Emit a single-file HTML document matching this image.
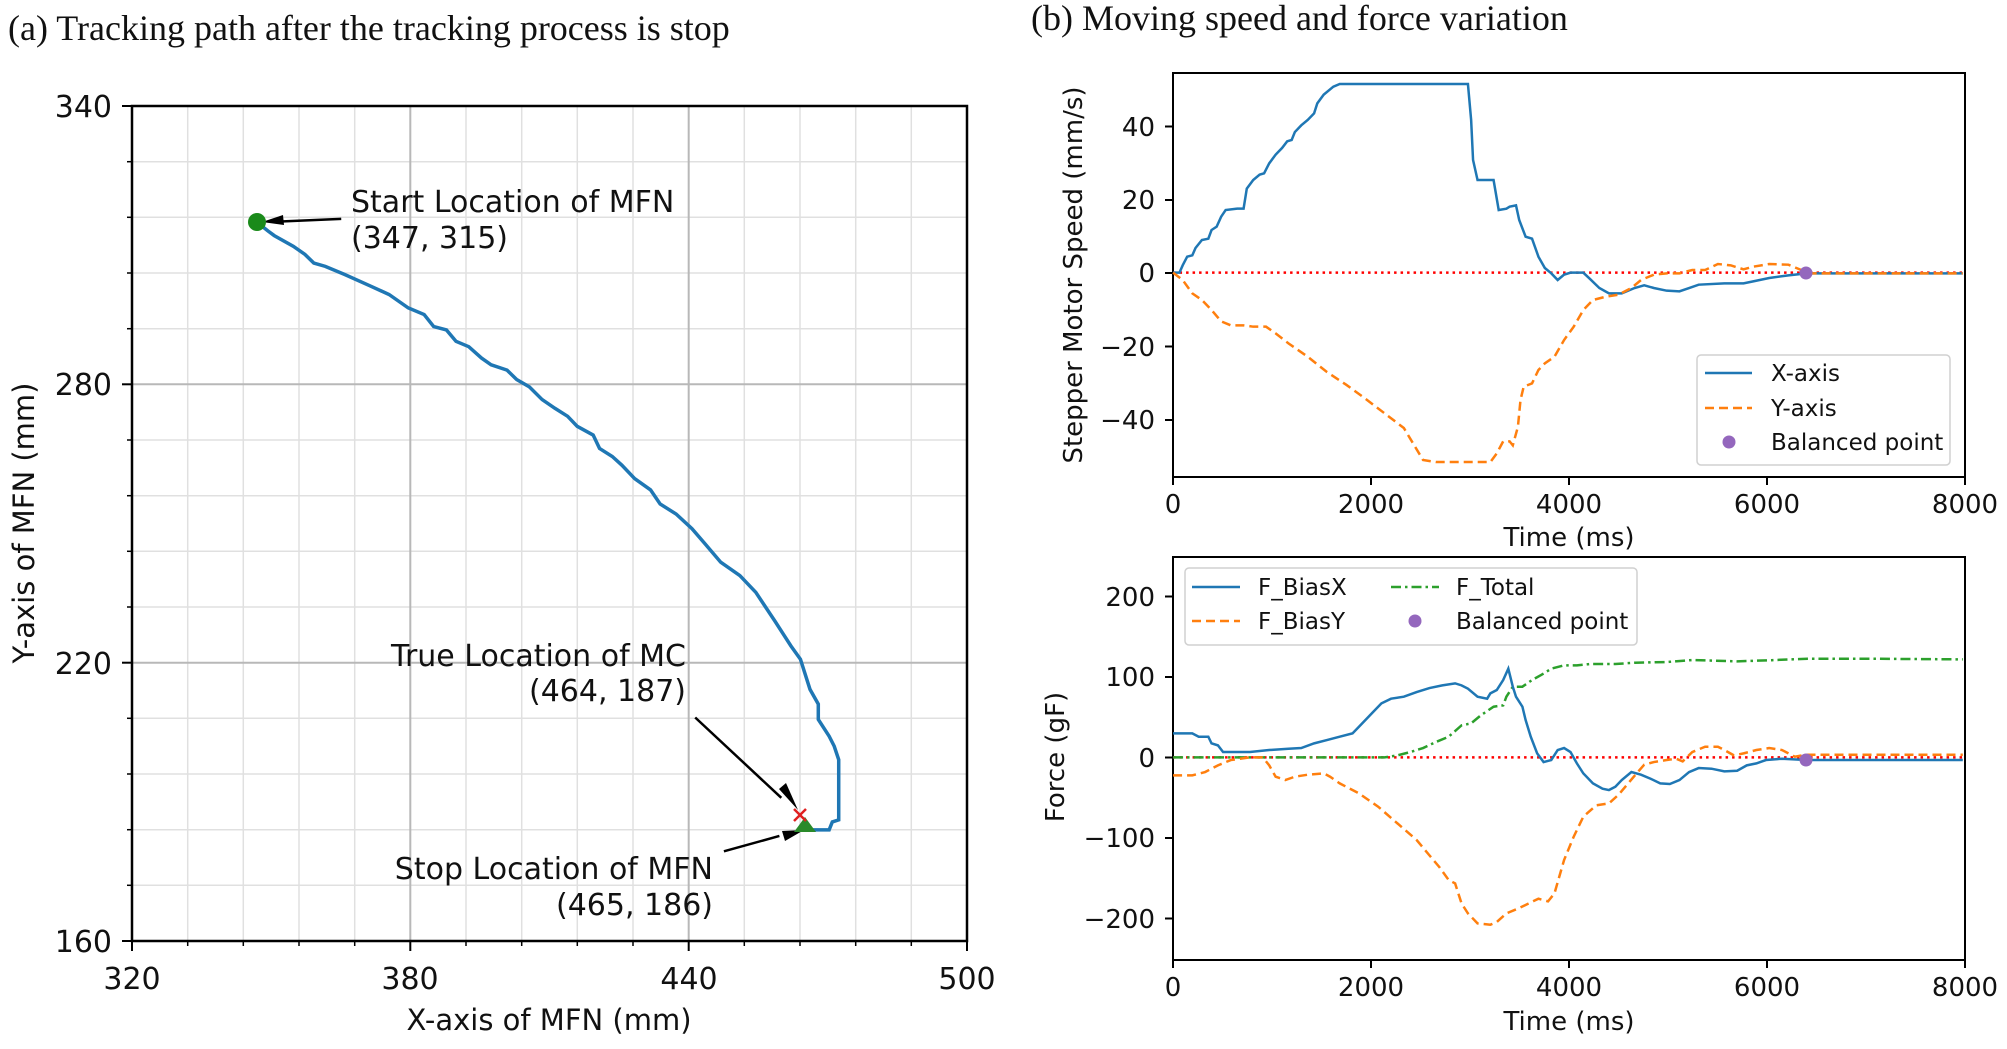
<!DOCTYPE html>
<html><head><meta charset="utf-8"><style>
html,body{margin:0;padding:0;background:#fff;}
svg{display:block;}
text{font-family:"DejaVu Sans","Liberation Sans",sans-serif;fill:#111;}
.ser{font-family:"Liberation Serif",serif;}
.nss{vector-effect:non-scaling-stroke;fill:none;}
</style></head><body>
<svg width="2007" height="1049" viewBox="0 0 2007 1049" xmlns="http://www.w3.org/2000/svg">
<text class="ser" x="8" y="40" font-size="36">(a) Tracking path after the tracking process is stop</text>
<text class="ser" x="1031" y="30" font-size="36">(b) Moving speed and force variation</text>

<!-- LEFT PLOT -->
<g stroke="#e0e0e0" stroke-width="1.5">
<line x1="187.7" y1="106" x2="187.7" y2="941"/><line x1="243.3" y1="106" x2="243.3" y2="941"/><line x1="299" y1="106" x2="299" y2="941"/><line x1="354.7" y1="106" x2="354.7" y2="941"/>
<line x1="410.3" y1="106" x2="410.3" y2="941"/><line x1="466" y1="106" x2="466" y2="941"/><line x1="521.7" y1="106" x2="521.7" y2="941"/><line x1="577.3" y1="106" x2="577.3" y2="941"/>
<line x1="633" y1="106" x2="633" y2="941"/><line x1="688.7" y1="106" x2="688.7" y2="941"/><line x1="744.3" y1="106" x2="744.3" y2="941"/><line x1="800" y1="106" x2="800" y2="941"/>
<line x1="855.7" y1="106" x2="855.7" y2="941"/><line x1="911.3" y1="106" x2="911.3" y2="941"/>
<line x1="132" y1="161.7" x2="967" y2="161.7"/><line x1="132" y1="217.3" x2="967" y2="217.3"/><line x1="132" y1="273" x2="967" y2="273"/><line x1="132" y1="328.7" x2="967" y2="328.7"/>
<line x1="132" y1="440" x2="967" y2="440"/><line x1="132" y1="495.7" x2="967" y2="495.7"/><line x1="132" y1="551.3" x2="967" y2="551.3"/><line x1="132" y1="607" x2="967" y2="607"/>
<line x1="132" y1="718.3" x2="967" y2="718.3"/><line x1="132" y1="774" x2="967" y2="774"/><line x1="132" y1="829.7" x2="967" y2="829.7"/><line x1="132" y1="885.3" x2="967" y2="885.3"/>
</g>
<g stroke="#b8b8b8" stroke-width="2">
<line x1="410.3" y1="106" x2="410.3" y2="941"/><line x1="688.7" y1="106" x2="688.7" y2="941"/>
<line x1="132" y1="384.3" x2="967" y2="384.3"/><line x1="132" y1="662.7" x2="967" y2="662.7"/>
</g>
<g stroke="#000" stroke-width="2">
<line x1="132" y1="941" x2="132" y2="951"/><line x1="410.3" y1="941" x2="410.3" y2="951"/><line x1="688.7" y1="941" x2="688.7" y2="951"/><line x1="967" y1="941" x2="967" y2="951"/>
<line x1="122" y1="106" x2="132" y2="106"/><line x1="122" y1="384.3" x2="132" y2="384.3"/><line x1="122" y1="662.7" x2="132" y2="662.7"/><line x1="122" y1="941" x2="132" y2="941"/>
<g stroke-width="1.5">
<line x1="187.7" y1="941" x2="187.7" y2="946"/><line x1="243.3" y1="941" x2="243.3" y2="946"/><line x1="299" y1="941" x2="299" y2="946"/><line x1="354.7" y1="941" x2="354.7" y2="946"/>
<line x1="466" y1="941" x2="466" y2="946"/><line x1="521.7" y1="941" x2="521.7" y2="946"/><line x1="577.3" y1="941" x2="577.3" y2="946"/><line x1="633" y1="941" x2="633" y2="946"/>
<line x1="744.3" y1="941" x2="744.3" y2="946"/><line x1="800" y1="941" x2="800" y2="946"/><line x1="855.7" y1="941" x2="855.7" y2="946"/><line x1="911.3" y1="941" x2="911.3" y2="946"/>
<line x1="127" y1="161.7" x2="132" y2="161.7"/><line x1="127" y1="217.3" x2="132" y2="217.3"/><line x1="127" y1="273" x2="132" y2="273"/><line x1="127" y1="328.7" x2="132" y2="328.7"/>
<line x1="127" y1="440" x2="132" y2="440"/><line x1="127" y1="495.7" x2="132" y2="495.7"/><line x1="127" y1="551.3" x2="132" y2="551.3"/><line x1="127" y1="607" x2="132" y2="607"/>
<line x1="127" y1="718.3" x2="132" y2="718.3"/><line x1="127" y1="774" x2="132" y2="774"/><line x1="127" y1="829.7" x2="132" y2="829.7"/><line x1="127" y1="885.3" x2="132" y2="885.3"/>
</g>
</g>
<rect x="132" y="106" width="835" height="835" fill="none" stroke="#000" stroke-width="2.5"/>
<g font-size="30" text-anchor="end">
<text x="112" y="117">340</text><text x="112" y="395">280</text><text x="112" y="674">220</text><text x="112" y="952">160</text>
</g>
<g font-size="30" text-anchor="middle">
<text x="132" y="989">320</text><text x="410" y="989">380</text><text x="689" y="989">440</text><text x="967" y="989">500</text>
</g>
<g font-size="29" text-anchor="middle">
<text x="549" y="1030">X-axis of MFN (mm)</text>
<text transform="translate(34,523) rotate(-90)">Y-axis of MFN (mm)</text>
</g>
<g transform="scale(0.6378,0.6693)">
<polyline class="nss" stroke="#1f77b4" stroke-width="3.5" points="403,332 420,345 430,352 460,368 478,380 492,393 510,398 540,410 580,427 610,440 640,460 665,470 680,488 700,493 715,510 735,518 755,535 770,545 795,553 810,567 830,578 850,597 870,610 890,622 905,637 930,650 940,670 960,682 975,695 995,715 1020,732 1035,753 1060,768 1085,790 1105,812 1130,840 1160,860 1185,885 1215,928 1240,965 1255,985 1270,1030 1283,1052 1283,1075 1300,1100 1308,1115 1315,1135 1315,1225 1305,1228 1300,1240 1285,1240 1263,1240"/>
<line class="nss" x1="535" y1="327" x2="440" y2="331" stroke="#000" stroke-width="2.5"/>
<line class="nss" x1="1090" y1="1072" x2="1225" y2="1192" stroke="#000" stroke-width="2.5"/>
<line class="nss" x1="1135" y1="1272" x2="1222" y2="1249" stroke="#000" stroke-width="2.5"/>
</g>
<polygon points="262,222 283,215 284,225" fill="#000"/>
<polygon points="798,810 779,789 786,783" fill="#000"/>
<polygon points="804,830 782,831 785,841" fill="#000"/>
<polygon points="805,817 794,832 816,832" fill="#2a8a2a"/>
<circle cx="257" cy="222" r="9" fill="#1a8a1a"/>
<g stroke="#e02020" stroke-width="2.5"><line x1="794" y1="809" x2="806" y2="821"/><line x1="806" y1="809" x2="794" y2="821"/></g>
<g font-size="30">
<text x="351" y="212">Start Location of MFN</text>
<text x="351" y="248">(347, 315)</text>
<text x="686" y="666" text-anchor="end">True Location of MC</text>
<text x="686" y="701" text-anchor="end">(464, 187)</text>
<text x="713" y="879" text-anchor="end">Stop Location of MFN</text>
<text x="713" y="915" text-anchor="end">(465, 186)</text>
</g>

<!-- RIGHT TOP -->
<rect x="1173" y="73" width="792" height="404" fill="none" stroke="#000" stroke-width="2"/>
<g stroke="#000" stroke-width="2">
<line x1="1173" y1="477" x2="1173" y2="485"/><line x1="1371" y1="477" x2="1371" y2="485"/><line x1="1569" y1="477" x2="1569" y2="485"/><line x1="1767" y1="477" x2="1767" y2="485"/><line x1="1965" y1="477" x2="1965" y2="485"/>
<line x1="1165" y1="126.5" x2="1173" y2="126.5"/><line x1="1165" y1="200" x2="1173" y2="200"/><line x1="1165" y1="273" x2="1173" y2="273"/><line x1="1165" y1="346.5" x2="1173" y2="346.5"/><line x1="1165" y1="420" x2="1173" y2="420"/>
</g>
<g font-size="26" text-anchor="end">
<text x="1155" y="136">40</text><text x="1155" y="209">20</text><text x="1155" y="282">0</text><text x="1155" y="356">−20</text><text x="1155" y="429">−40</text>
</g>
<g font-size="26" text-anchor="middle">
<text x="1173" y="513">0</text><text x="1371" y="513">2000</text><text x="1569" y="513">4000</text><text x="1767" y="513">6000</text><text x="1965" y="513">8000</text>
<text x="1569" y="546">Time (ms)</text>
<text transform="translate(1082,275) rotate(-90)">Stepper Motor Speed (mm/s)</text>
</g>
<g transform="translate(1000,0) scale(0.641,0.6667)">
<line class="nss" x1="270" y1="409" x2="1502" y2="409" stroke="#ff0000" stroke-width="2.5" stroke-dasharray="2.5,4"/>
<polyline class="nss" stroke="#1f77b4" stroke-width="2.5" points="270,409 280,409 285,398 292,385 300,383 305,372 315,360 325,358 330,345 338,340 345,325 352,315 370,313 380,313 385,283 395,270 405,262 412,260 420,245 430,232 440,222 448,212 455,210 460,198 470,188 480,180 490,170 495,155 505,142 520,130 530,126 730,126 735,180 738,240 745,270 770,270 778,315 790,313 795,310 805,308 810,330 820,355 830,358 840,385 850,402 860,410 870,420 880,412 890,409 910,409 920,418 935,432 950,440 970,440 990,432 1005,428 1020,432 1040,436 1060,437 1075,432 1090,427 1130,425 1160,425 1175,422 1200,417 1230,413 1258,410 1502,410"/>
<polyline class="nss" stroke="#ff7f0e" stroke-width="2.5" stroke-dasharray="9,5" points="270,409 285,420 300,440 315,450 330,465 345,482 360,488 380,488 395,490 415,490 430,500 450,515 480,535 510,558 540,577 570,598 600,620 630,642 660,690 680,693 765,693 775,680 785,662 795,662 800,668 808,640 812,600 817,580 830,575 840,555 850,545 865,535 880,510 895,490 910,465 925,450 945,445 965,442 985,432 1000,420 1020,412 1040,410 1060,410 1080,405 1100,405 1120,396 1140,398 1160,404 1175,400 1200,396 1230,397 1250,405 1258,410 1502,410"/>
</g>
<circle cx="1806" cy="273" r="6.5" fill="#9467bd"/>
<rect x="1697" y="355" width="253" height="110" rx="4" fill="#fff" fill-opacity="0.85" stroke="#d0d0d0" stroke-width="1.5"/>
<line x1="1705" y1="373" x2="1752" y2="373" stroke="#1f77b4" stroke-width="2.5"/>
<line x1="1705" y1="408" x2="1752" y2="408" stroke="#ff7f0e" stroke-width="2.5" stroke-dasharray="9,5"/>
<circle cx="1729" cy="442" r="6.5" fill="#9467bd"/>
<g font-size="23"><text x="1771" y="381">X-axis</text><text x="1771" y="416">Y-axis</text><text x="1771" y="450">Balanced point</text></g>

<!-- RIGHT BOTTOM -->
<rect x="1173" y="557" width="792" height="403" fill="none" stroke="#000" stroke-width="2"/>
<g stroke="#000" stroke-width="2">
<line x1="1173" y1="960" x2="1173" y2="968"/><line x1="1371" y1="960" x2="1371" y2="968"/><line x1="1569" y1="960" x2="1569" y2="968"/><line x1="1767" y1="960" x2="1767" y2="968"/><line x1="1965" y1="960" x2="1965" y2="968"/>
<line x1="1165" y1="596.5" x2="1173" y2="596.5"/><line x1="1165" y1="677" x2="1173" y2="677"/><line x1="1165" y1="757.5" x2="1173" y2="757.5"/><line x1="1165" y1="838" x2="1173" y2="838"/><line x1="1165" y1="918.5" x2="1173" y2="918.5"/>
</g>
<g font-size="26" text-anchor="end">
<text x="1155" y="606">200</text><text x="1155" y="686">100</text><text x="1155" y="767">0</text><text x="1155" y="847">−100</text><text x="1155" y="928">−200</text>
</g>
<g font-size="26" text-anchor="middle">
<text x="1173" y="996">0</text><text x="1371" y="996">2000</text><text x="1569" y="996">4000</text><text x="1767" y="996">6000</text><text x="1965" y="996">8000</text>
<text x="1569" y="1030">Time (ms)</text>
<text transform="translate(1064,757) rotate(-90)">Force (gF)</text>
</g>
<g transform="translate(1000,0) scale(0.641,0.6667)">
<line class="nss" x1="270" y1="1136" x2="1502" y2="1136" stroke="#ff0000" stroke-width="2.5" stroke-dasharray="2.5,4"/>
<polyline class="nss" stroke="#2ca02c" stroke-width="2.5" stroke-dasharray="10,4,2.5,4" points="270,1136 600,1136 620,1133 640,1128 660,1122 680,1113 700,1105 720,1088 735,1085 750,1073 770,1060 785,1058 790,1045 800,1030 815,1030 830,1020 845,1012 860,1003 880,998 900,998 920,996 960,996 990,994 1040,993 1080,990 1150,992 1210,990 1260,988 1350,988 1502,989"/>
<polyline class="nss" stroke="#1f77b4" stroke-width="2.5" points="270,1100 300,1100 310,1105 325,1105 330,1115 340,1118 348,1128 360,1128 390,1128 420,1125 450,1123 470,1122 490,1115 510,1110 530,1105 550,1100 560,1090 580,1070 595,1055 610,1048 630,1045 650,1038 670,1032 690,1028 710,1025 720,1028 730,1033 745,1045 760,1048 765,1040 775,1035 785,1020 793,1003 800,1030 805,1045 815,1060 820,1080 828,1105 838,1130 848,1143 860,1140 870,1125 880,1122 890,1128 900,1145 910,1160 925,1175 940,1183 950,1185 960,1180 970,1170 985,1158 1000,1162 1015,1168 1030,1175 1045,1176 1060,1170 1075,1158 1090,1152 1110,1153 1130,1157 1150,1156 1165,1148 1180,1145 1195,1140 1220,1138 1258,1140 1502,1140"/>
<polyline class="nss" stroke="#ff7f0e" stroke-width="2.5" stroke-dasharray="9,5" points="270,1163 300,1163 320,1158 340,1148 360,1140 390,1136 410,1136 420,1148 430,1165 445,1170 460,1165 480,1162 505,1160 515,1165 530,1175 560,1190 590,1210 620,1235 650,1260 670,1283 685,1300 700,1320 710,1325 720,1355 730,1370 745,1385 765,1387 775,1383 790,1370 810,1362 825,1355 840,1348 855,1352 865,1340 880,1290 895,1255 910,1225 930,1208 950,1205 965,1192 980,1175 995,1158 1005,1147 1020,1143 1040,1140 1055,1138 1065,1142 1080,1128 1100,1120 1120,1120 1130,1125 1145,1133 1160,1130 1180,1125 1200,1122 1220,1125 1240,1135 1258,1132 1502,1132"/>
</g>
<circle cx="1806" cy="760" r="6.5" fill="#9467bd"/>
<rect x="1185" y="568" width="452" height="77" rx="4" fill="#fff" fill-opacity="0.85" stroke="#d0d0d0" stroke-width="1.5"/>
<line x1="1192" y1="587" x2="1240" y2="587" stroke="#1f77b4" stroke-width="2.5"/>
<line x1="1192" y1="621" x2="1240" y2="621" stroke="#ff7f0e" stroke-width="2.5" stroke-dasharray="9,5"/>
<line x1="1391" y1="587" x2="1439" y2="587" stroke="#2ca02c" stroke-width="2.5" stroke-dasharray="10,4,2.5,4"/>
<circle cx="1415" cy="621" r="6.5" fill="#9467bd"/>
<g font-size="23"><text x="1258" y="595">F_BiasX</text><text x="1258" y="629">F_BiasY</text><text x="1456" y="595">F_Total</text><text x="1456" y="629">Balanced point</text></g>
</svg>
</body></html>
